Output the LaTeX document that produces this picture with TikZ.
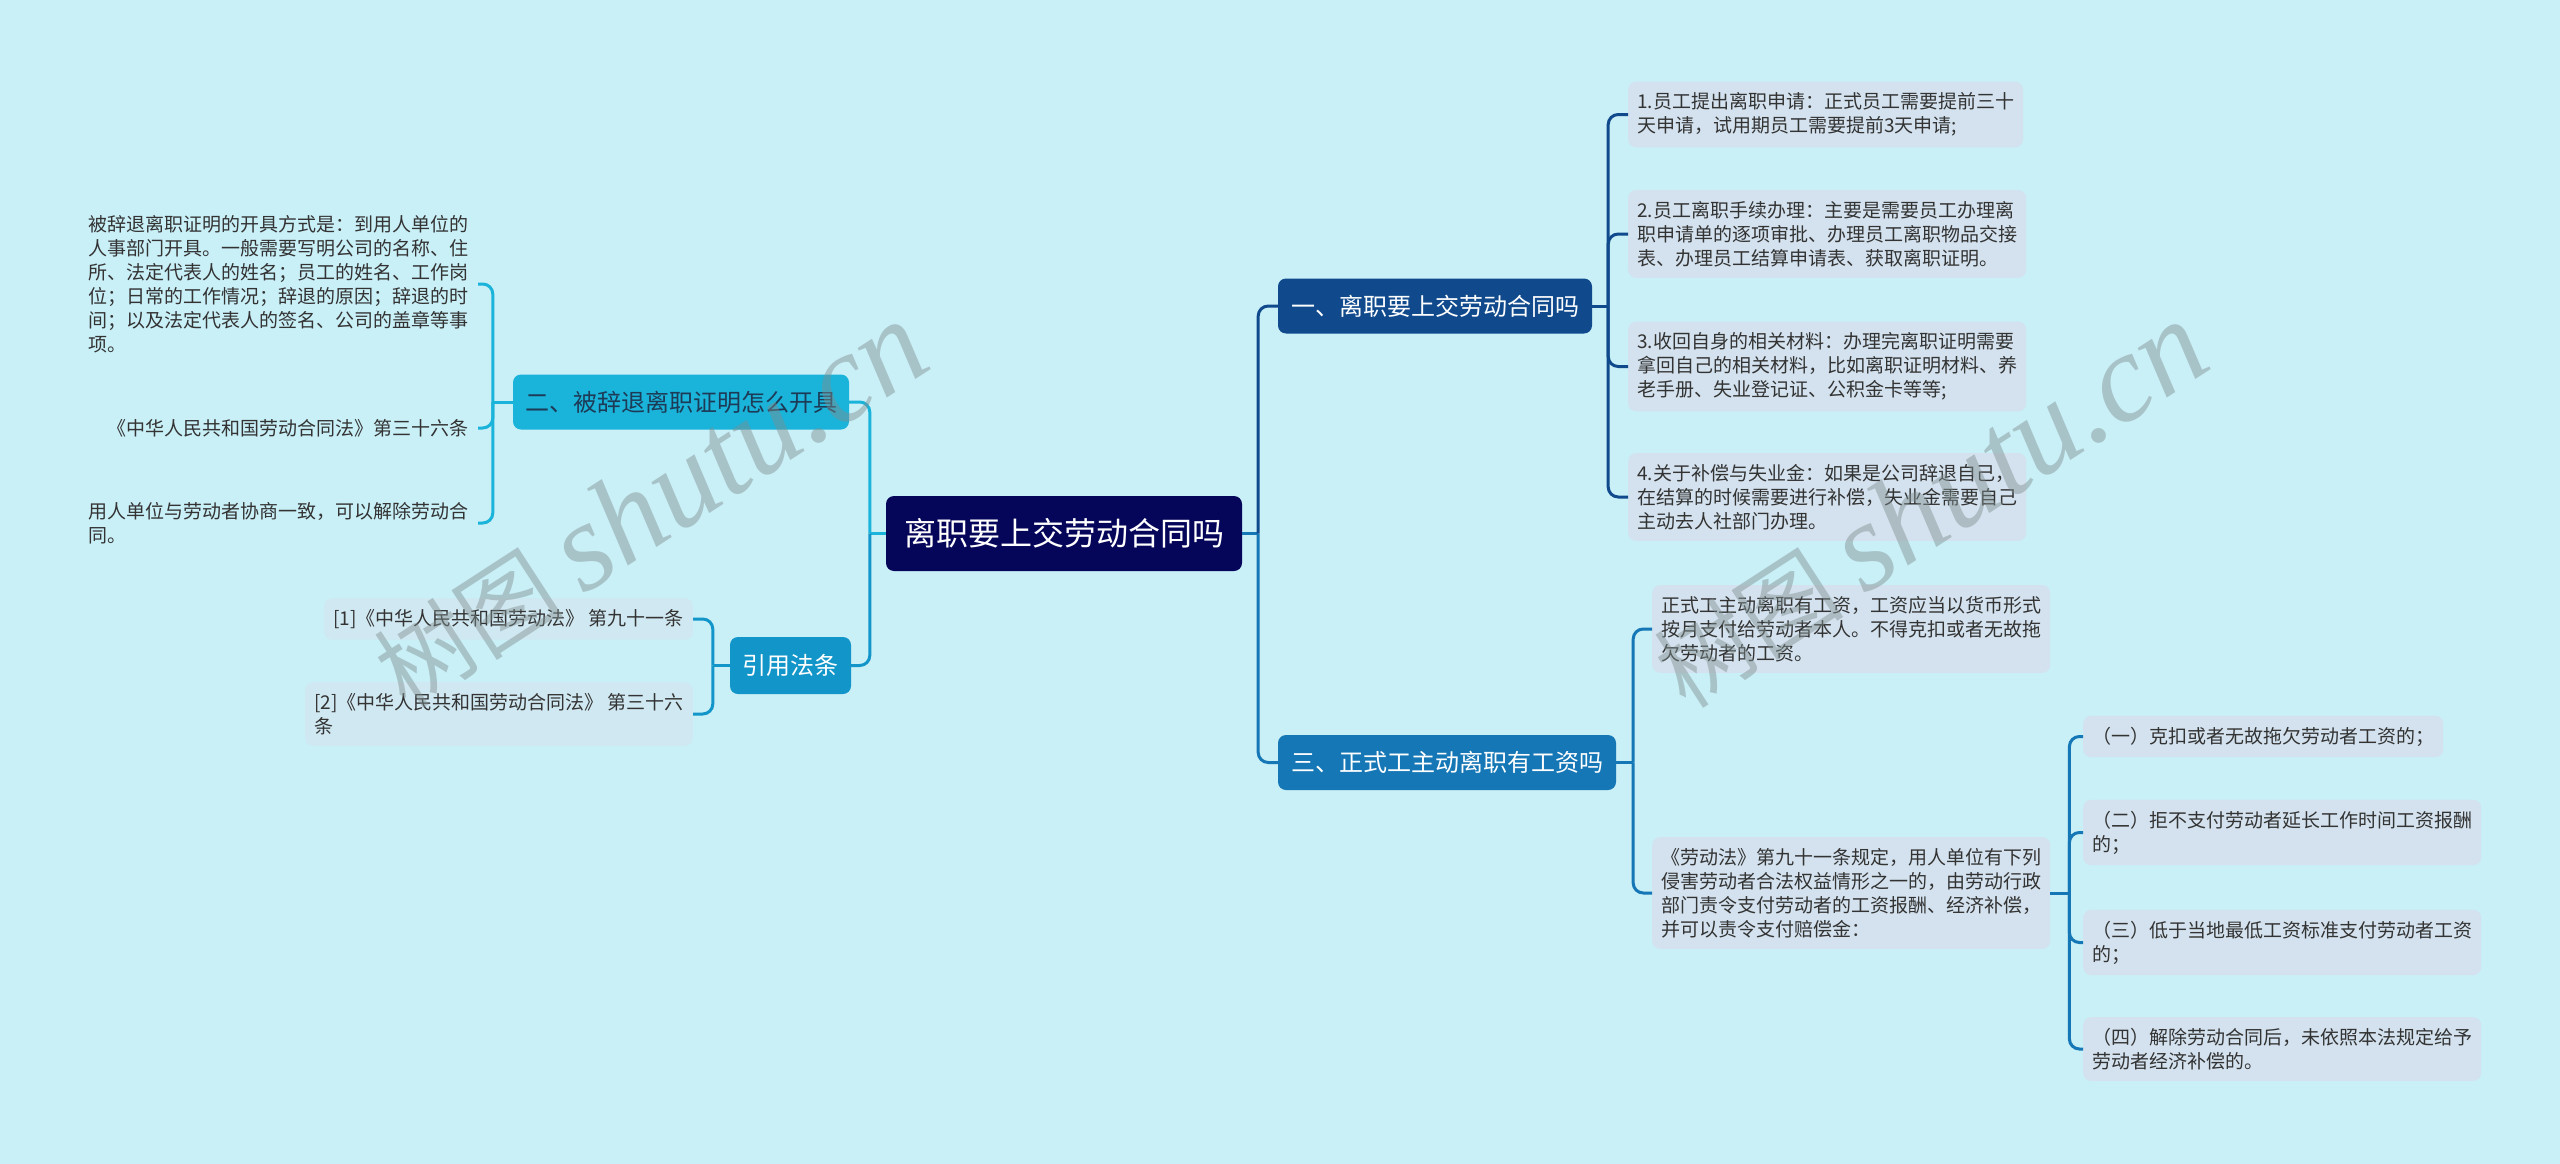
\documentclass[tikz,border=0pt]{standalone}
\usepackage{fontspec}
\setmainfont{Noto Sans CJK SC}
\newfontfamily\wmfont{Liberation Serif}
\usepackage{tikz}
\usetikzlibrary{calc}
\definecolor{bgc}{HTML}{C9EFF7}
\definecolor{rootc}{HTML}{05055A}
\definecolor{onec}{HTML}{104A8C}
\definecolor{twoc}{HTML}{1AB3D9}
\definecolor{threec}{HTML}{1577B5}
\definecolor{citec}{HTML}{1295C9}
\definecolor{leafc}{HTML}{D3E2EE}
\definecolor{citeleafc}{HTML}{D0E8F1}
\definecolor{txt}{HTML}{333333}
\definecolor{twotxt}{HTML}{1D3B57}
\definecolor{wmc}{HTML}{7F8F90}
\tikzset{
  topic/.style={rounded corners=8pt, align=center, text=white, inner sep=0pt},
  rootnd/.style={topic, fill=rootc, minimum width=356pt, minimum height=75pt, font=\fontsize{32pt}{38pt}\selectfont},
  br/.style={topic, minimum height=55pt, font=\fontsize{24pt}{29pt}\selectfont},
  leaf/.style={fill=leafc, rounded corners=8pt, align=left, text=txt, inner xsep=9pt, inner ysep=11pt, font=\fontsize{19pt}{24pt}\selectfont},
  note/.style={leaf, fill=none},
  ln/.style={line width=3pt, rounded corners=10pt},
  wm/.style={text=wmc, opacity=0.45, rotate=33, inner sep=0pt}
}
\begin{document}
\begin{tikzpicture}[x=1pt,y=-1pt]
  \fill[bgc] (0,0) rectangle (2560,1164);
  \useasboundingbox (0,0) rectangle (2560,1164);

  % centre and main topics
  \node[rootnd] (root) at (1064,533.5) {离职要上交劳动合同吗};
  \node[br, fill=onec, minimum width=314pt] (b1) at (1435,306) {一、离职要上交劳动合同吗};
  \node[br, fill=threec, minimum width=338pt] (b3) at (1447,762.5) {三、正式工主动离职有工资吗};
  \node[br, fill=twoc, text=twotxt, minimum width=336pt] (b2) at (681,402) {二、被辞退离职证明怎么开具};
  \node[br, fill=citec, minimum width=121pt, minimum height=57pt] (cite) at (790.5,665.5) {引用法条};

  % branch one
  \node[leaf, anchor=west] (l1) at (1628,114.5) {1.员工提出离职申请：正式员工需要提前三十\\天申请，试用期员工需要提前3天申请;};
  \node[leaf, anchor=west] (l2) at (1628,234) {2.员工离职手续办理：主要是需要员工办理离\\职申请单的逐项审批、办理员工离职物品交接\\表、办理员工结算申请表、获取离职证明。};
  \node[leaf, anchor=west] (l3) at (1628,366.5) {3.收回自身的相关材料：办理完离职证明需要\\拿回自己的相关材料，比如离职证明材料、养\\老手册、失业登记证、公积金卡等等;};
  \node[leaf, anchor=west] (l4) at (1628,497) {4.关于补偿与失业金：如果是公司辞退自己，\\在结算的时候需要进行补偿，失业金需要自己\\主动去人社部门办理。};

  % branch three
  \node[leaf, anchor=west] (m1) at (1652,629) {正式工主动离职有工资，工资应当以货币形式\\按月支付给劳动者本人。不得克扣或者无故拖\\欠劳动者的工资。};
  \node[leaf, anchor=west] (m2) at (1652,893) {《劳动法》第九十一条规定，用人单位有下列\\侵害劳动者合法权益情形之一的，由劳动行政\\部门责令支付劳动者的工资报酬、经济补偿，\\并可以责令支付赔偿金：};
  \node[leaf, anchor=west] (s1) at (2083,736.5) {（一）克扣或者无故拖欠劳动者工资的；};
  \node[leaf, anchor=west] (s2) at (2083,832.5) {（二）拒不支付劳动者延长工作时间工资报酬\\的；};
  \node[leaf, anchor=west] (s3) at (2083,942.5) {（三）低于当地最低工资标准支付劳动者工资\\的；};
  \node[leaf, anchor=west] (s4) at (2083,1049) {（四）解除劳动合同后，未依照本法规定给予\\劳动者经济补偿的。};

  % branch two
  \node[note, anchor=east] (a1) at (478,284) {被辞退离职证明的开具方式是：到用人单位的\\人事部门开具。一般需要写明公司的名称、住\\所、法定代表人的姓名；员工的姓名、工作岗\\位；日常的工作情况；辞退的原因；辞退的时\\间；以及法定代表人的签名、公司的盖章等事\\项。};
  \node[note, anchor=east] (a2) at (478,428) {《中华人民共和国劳动合同法》第三十六条};
  \node[note, anchor=east] (a3) at (478,523) {用人单位与劳动者协商一致，可以解除劳动合\\同。};

  % citations
  \node[leaf, fill=citeleafc, anchor=east] (c1) at (693,619) {[1]《中华人民共和国劳动法》 第九十一条};
  \node[leaf, fill=citeleafc, anchor=east] (c2) at (693,714) {[2]《中华人民共和国劳动合同法》 第三十六\\条};

  % connectors
  \coordinate (jR) at ($(root.east)+(16,0)$);
  \coordinate (jL) at ($(root.west)+(-16,0)$);
  \draw[ln, threec] (root.east) -- (jR);
  \draw[ln, onec] (jR) |- (b1.west);
  \draw[ln, threec] (jR) |- (b3.west);
  \draw[ln, twoc] (root.west) -- (jL);
  \draw[ln, twoc] (jL) |- (b2.east);
  \draw[ln, citec] (jL) |- (cite.east);

  \coordinate (j1) at ($(b1.east)+(16,0)$);
  \draw[ln, onec] (b1.east) -- (j1);
  \foreach \n in {l1,l2,l3,l4} \draw[ln, onec] (j1) |- (\n.west);

  \coordinate (j3) at ($(b3.east)+(17,0)$);
  \draw[ln, threec] (b3.east) -- (j3);
  \foreach \n in {m1,m2} \draw[ln, threec] (j3) |- (\n.west);

  \coordinate (jm) at ($(m2.east)+(19,0)$);
  \draw[ln, threec] (m2.east) -- (jm);
  \foreach \n in {s1,s2,s3,s4} \draw[ln, threec] (jm) |- (\n.west);

  \coordinate (j2) at ($(b2.west)+(-20,0)$);
  \draw[ln, twoc] (b2.west) -- (j2);
  \foreach \n in {a1,a2,a3} \draw[ln, twoc] (j2) |- (\n.east);

  \coordinate (jc) at ($(cite.west)+(-17,0)$);
  \draw[ln, citec] (cite.west) -- (jc);
  \foreach \n in {c1,c2} \draw[ln, citec] (jc) |- (\n.east);

  % watermark
  \node[wm] (wmL) at (650,505) {\fontsize{95pt}{95pt}\selectfont 树图 {\wmfont\itshape\fontsize{125pt}{125pt}\selectfont shutu.cn}};
  \node[wm] (wmR) at (1930,505) {\fontsize{95pt}{95pt}\selectfont 树图 {\wmfont\itshape\fontsize{125pt}{125pt}\selectfont shutu.cn}};
\end{tikzpicture}
\end{document}
